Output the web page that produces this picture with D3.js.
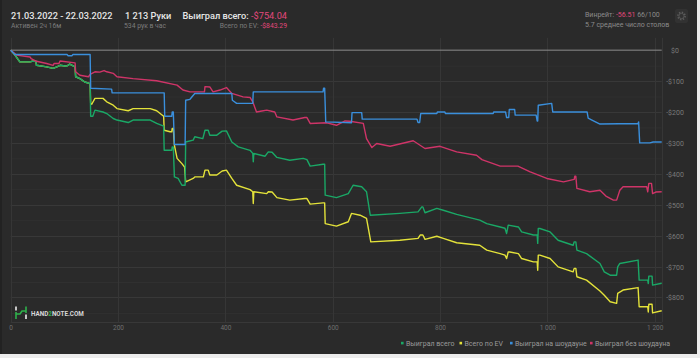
<!DOCTYPE html>
<html><head><meta charset="utf-8">
<script src="https://cdn.jsdelivr.net/npm/d3@7"></script>
<style>
html,body{margin:0;padding:0;background:#ececec;}
svg{display:block;font-family:Roboto,"Noto Sans",sans-serif;}
</style></head><body>
<svg id="c" width="700" height="358"></svg>
<script>
// ---- data (hands, dollars) ----
const seriesNames = ["Выиграл всего", "Всего по EV", "Выиграл на шоудауне", "Выиграл без шоудауна"];
const xTicks = [0, 200, 400, 600, 800, 1000, 1200];
const yTicks = [0, -100, -200, -300, -400, -500, -600, -700, -800];
const totalHands = 1213;

const wonTotal = [[0,0],[8,-16],[17,-38],[36,-38],[42,-35],[47,-36],[48,-49],[67,-54],[79,-59],[86,-54],[92,-49],[104,-52],[110,-45],[120,-54],[121,-86],[129,-92],[138,-103],[148,-108],
[149,-214],[153,-214],[157,-194],[172,-200],[179,-205],[191,-221],[198,-226],[219,-234],[228,-226],[260,-226],[272,-237],[285,-246],[286,-324],[300,-324],[301,-313],[303,-313],[305,-410],[312,-415],[319,-437],[325,-437],
[326,-297],[340,-291],[343,-280],[358,-286],[362,-259],[368,-259],[371,-275],[384,-275],[394,-262],[402,-261],[412,-297],[424,-313],[446,-324],[451,-334],[452,-361],[453,-334],[474,-343],[480,-329],[487,-330],[496,-347],[520,-356],[545,-350],[552,-354],[558,-375],[582,-369],[585,-369],
[586,-469],[607,-477],[629,-464],[638,-437],[654,-442],[663,-458],[670,-534],[725,-528],[759,-523],[766,-507],[768,-507],[772,-526],[794,-512],[806,-518],[831,-531],[874,-550],[887,-561],[912,-572],[921,-576],[924,-593],[927,-566],[946,-572],[952,-588],[974,-598],[981,-598],[982,-625],[983,-577],[986,-577],[1005,-588],[1020,-615],[1048,-631],[1050,-620],[1053,-620],[1055,-647],[1073,-658],[1098,-690],[1106,-717],[1117,-728],[1129,-728],[1131,-701],[1135,-690],[1169,-679],[1171,-744],[1187,-744],[1188,-755],[1189,-731],[1195,-731],[1196,-760],[1213,-754]];

const evTotal = [[0,0],[8,-16],[17,-38],[36,-38],[42,-35],[47,-36],[48,-49],[67,-54],[79,-59],[86,-54],[92,-49],[104,-52],[110,-45],[120,-54],[121,-86],[129,-92],[138,-103],[148,-108],
[149,-172],[151,-175],[157,-156],[172,-156],[179,-167],[191,-178],[198,-189],[219,-196],[228,-189],[260,-189],[272,-196],[285,-214],[286,-259],[297,-264],[300,-264],[301,-253],[303,-253],[305,-307],[310,-350],[319,-367],[324,-378],
[326,-426],[340,-415],[343,-410],[359,-410],[362,-388],[368,-388],[371,-404],[384,-404],[394,-391],[402,-388],[412,-415],[421,-437],[446,-451],[451,-458],[452,-496],[453,-458],[477,-464],[480,-458],[487,-459],[496,-477],[520,-485],[548,-480],[552,-480],[558,-498],[582,-494],[585,-494],
[586,-561],[607,-569],[629,-555],[635,-528],[651,-534],[663,-544],[671,-620],[725,-615],[759,-609],[763,-598],[768,-598],[772,-612],[794,-602],[806,-609],[831,-623],[874,-631],[887,-647],[912,-658],[921,-663],[924,-674],[927,-653],[930,-653],[946,-658],[952,-674],[974,-685],[981,-685],[982,-712],[983,-663],[986,-663],[1005,-674],[1020,-701],[1048,-717],[1050,-706],[1053,-706],[1055,-733],[1073,-744],[1098,-779],[1106,-793],[1117,-814],[1129,-819],[1131,-787],[1141,-776],[1169,-768],[1171,-830],[1187,-830],[1188,-847],[1189,-822],[1195,-822],[1196,-850],[1213,-843]];

const wonShowdown = [[0,0],[8,-14],[105,-14],[107,-18],[114,-18],[116,-14],[148,-14],[149,-123],[188,-126],[189,-138],[286,-138],[287,-214],[300,-214],[301,-200],[303,-200],[305,-305],[325,-305],[326,-162],[334,-159],[343,-140],[412,-140],[413,-162],[421,-172],[451,-172],[452,-135],[582,-135],[583,-123],[585,-123],[587,-232],[635,-235],[636,-202],[654,-202],[655,-223],[757,-223],[759,-234],[762,-234],[764,-205],[794,-205],[795,-200],[809,-200],[810,-205],[899,-205],[900,-200],[922,-200],[924,-218],[928,-218],[929,-192],[939,-192],[940,-210],[979,-210],[981,-229],[982,-229],[983,-178],[1008,-172],[1010,-200],[1074,-200],[1076,-220],[1083,-226],[1098,-239],[1169,-237],[1170,-232],[1172,-300],[1191,-300],[1197,-297],[1213,-297]];

const wonNoShowdown = [[0,0],[11,-16],[36,-22],[38,-27],[48,-36],[67,-43],[79,-49],[81,-43],[90,-43],[92,-35],[120,-41],[121,-70],[129,-81],[145,-86],[148,-78],[157,-70],[166,-71],[174,-66],[179,-70],[191,-75],[198,-86],[228,-92],[272,-99],[310,-113],[321,-129],[334,-135],[361,-135],[362,-118],[371,-119],[377,-135],[390,-129],[402,-121],[412,-140],[433,-151],[446,-153],[451,-167],[458,-200],[468,-197],[477,-194],[492,-200],[496,-216],[526,-226],[548,-218],[552,-218],[558,-237],[589,-235],[607,-243],[623,-229],[632,-230],[657,-237],[663,-286],[673,-315],[682,-302],[707,-311],[750,-293],[772,-318],[800,-311],[831,-329],[868,-340],[878,-354],[912,-375],[945,-375],[968,-394],[999,-415],[1030,-426],[1050,-418],[1051,-408],[1053,-408],[1055,-447],[1079,-458],[1098,-453],[1109,-472],[1123,-485],[1129,-485],[1135,-453],[1141,-442],[1185,-442],[1187,-458],[1189,-431],[1194,-431],[1196,-464],[1202,-459],[1213,-458]];

const colors = ["#1aa866", "#e3e23a", "#3a8fdc", "#cf3468"];
const seriesData = [wonTotal, evTotal, wonShowdown, wonNoShowdown];

// ---- drawing ----
const svg = d3.select("#c");
svg.append("rect").attr("x",0).attr("y",0).attr("width",697).attr("height",354).attr("fill","#2a2a2a");
svg.append("rect").attr("x",0).attr("y",0).attr("width",2).attr("height",354).attr("fill","#222");

const x = d3.scaleLinear().domain([0, totalHands]).range([10.7, 661.7]);
const y = d3.scaleLinear().domain([-880, 40]).range([322.2, 37.8]);

// header
const hdr = svg.append("g");
hdr.append("text").attr("x",11).attr("y",18.5).attr("fill","#e6e6e6").attr("font-size",9.2).attr("font-weight",500).text("21.03.2022 - 22.03.2022");
hdr.append("text").attr("x",11).attr("y",27.5).attr("fill","#7c7c7c").attr("font-size",6.8).text("Активен 2ч 16м");
hdr.append("text").attr("x",125).attr("y",18.5).attr("fill","#e6e6e6").attr("font-size",9.2).attr("font-weight",500).text("1 213 Руки");
hdr.append("text").attr("x",124).attr("y",27.5).attr("fill","#7c7c7c").attr("font-size",6.8).text("534 рук в час");
const t1 = hdr.append("text").attr("x",287).attr("y",18.5).attr("text-anchor","end").attr("font-size",9.2).attr("font-weight",500);
t1.append("tspan").attr("fill","#e6e6e6").text("Выиграл всего: ");
t1.append("tspan").attr("fill","#e2487c").attr("font-weight",400).text("-$754.04");
const t2 = hdr.append("text").attr("x",287).attr("y",27.5).attr("text-anchor","end").attr("font-size",6.8);
t2.append("tspan").attr("fill","#7c7c7c").text("Всего по EV: ");
t2.append("tspan").attr("fill","#e2487c").text("-$843.29");
const t3 = hdr.append("text").attr("x",585).attr("y",17).attr("font-size",7).attr("fill","#8a8a8a");
t3.append("tspan").text("Винрейт: ");
t3.append("tspan").attr("fill","#e2487c").text("-56.51");
t3.append("tspan").text(" 66/100");
hdr.append("text").attr("x",585).attr("y",27).attr("font-size",7).attr("fill","#8a8a8a").text("5.7 среднее число столов");
// gear
hdr.append("rect").attr("x",675).attr("y",9).attr("width",13).attr("height",14).attr("rx",2).attr("fill","#323232");
hdr.append("circle").attr("cx",681.5).attr("cy",16).attr("r",3.6).attr("fill","none").attr("stroke","#5c5c5c").attr("stroke-width",1.6).attr("stroke-dasharray","1.4 1.4");
hdr.append("circle").attr("cx",681.5).attr("cy",16).attr("r",2.6).attr("fill","none").attr("stroke","#5c5c5c").attr("stroke-width",0.8);

// grid
const grid = svg.append("g");
const minor = d3.range(-850, 40, 50).filter(v => v % 100 !== 0);
grid.selectAll("line.mi").data(minor).join("line").attr("class","mi")
  .attr("x1",x(0)).attr("x2",x(totalHands)).attr("y1",d=>y(d)+0.5).attr("y2",d=>y(d)+0.5)
  .attr("stroke","#303030").attr("stroke-width",1);
grid.selectAll("line.ma").data(yTicks.filter(v=>v!==0).concat([-880])).join("line").attr("class","ma")
  .attr("x1",x(0)).attr("x2",x(totalHands)).attr("y1",d=>Math.round(y(d))+0.5).attr("y2",d=>Math.round(y(d))+0.5)
  .attr("stroke","#383838").attr("stroke-width",1);
grid.selectAll("line.vx").data(xTicks.concat([totalHands])).join("line").attr("class","vx")
  .attr("x1",d=>Math.round(x(d))+0.5).attr("x2",d=>Math.round(x(d))+0.5).attr("y1",37.8).attr("y2",322.2)
  .attr("stroke","#363636").attr("stroke-width",1);
grid.append("line").attr("x1",x(0)).attr("x2",x(totalHands)).attr("y1",y(0)).attr("y2",y(0)).attr("stroke","#8c8c8c").attr("stroke-width",1);

// axes
const fmtX = d => d3.format(",")(d).replace(/,/g," ");
const xAxis = d3.axisBottom(x).tickValues(xTicks).tickSize(0).tickPadding(0).tickFormat(fmtX);
const gx = svg.append("g").attr("transform","translate(0,330)").call(xAxis);
gx.select(".domain").remove();
gx.selectAll("text").attr("fill","#6e6e6e").attr("font-size",6.5).attr("font-family","Roboto, sans-serif").attr("dy",0);

const fmtY = d => (d < 0 ? "-$" : "$") + Math.abs(d);
const yAxis = d3.axisRight(y).tickValues(yTicks).tickSize(0).tickPadding(0).tickFormat(fmtY);
const gy = svg.append("g").attr("transform","translate(675,0)").call(yAxis);
gy.select(".domain").remove();
gy.selectAll("text").attr("fill","#7a7a7a").attr("font-size",7).attr("font-family","Roboto, sans-serif").attr("dy","0.35em").attr("text-anchor","middle");

// lines
const line = d3.line().x(d=>x(d[0])).y(d=>y(d[1]));
const order = [1,0,3,2];
svg.append("g").selectAll("path").data(order).join("path")
  .attr("d", i => line(seriesData[i]))
  .attr("fill","none").attr("stroke", i => colors[i]).attr("stroke-width",1.4)
  .attr("stroke-linejoin","round");

// legend
const legX = [401, 459.5, 510, 590];
const lg = svg.append("g").selectAll("g").data(seriesNames).join("g")
  .attr("transform",(d,i)=>`translate(${legX[i]},344)`);
lg.append("rect").attr("x",0).attr("y",-2.2).attr("width",2.6).attr("height",2.6).attr("fill",(d,i)=>colors[i]);
lg.append("text").attr("x",5).attr("y",2.4).attr("fill","#9a9a9a").attr("font-size",7).text(d=>d);

// logo
const logo = svg.append("g");
logo.append("line").attr("x1",16).attr("x2",16).attr("y1",306.5).attr("y2",310.5).attr("stroke","#eee").attr("stroke-width",1.6);
logo.append("line").attr("x1",16).attr("x2",16).attr("y1",312).attr("y2",319).attr("stroke","#2fb24c").attr("stroke-width",1.6);
logo.append("line").attr("x1",26).attr("x2",26).attr("y1",306.5).attr("y2",313).attr("stroke","#2fb24c").attr("stroke-width",1.6);
logo.append("line").attr("x1",26).attr("x2",26).attr("y1",314.5).attr("y2",319).attr("stroke","#eee").attr("stroke-width",1.6);
logo.append("path").attr("d","M16,314 L20,314 L22,311 L26,311").attr("fill","none").attr("stroke","#2fb24c").attr("stroke-width",1.6);
const lt = logo.append("text").attr("x",31).attr("y",316).attr("font-size",6.3).attr("font-weight",700).attr("fill","#d8d8d8");
lt.append("tspan").text("HAND");
lt.append("tspan").attr("fill","#2fb24c").text("2");
lt.append("tspan").text("NOTE.COM");
</script>
</body></html>
